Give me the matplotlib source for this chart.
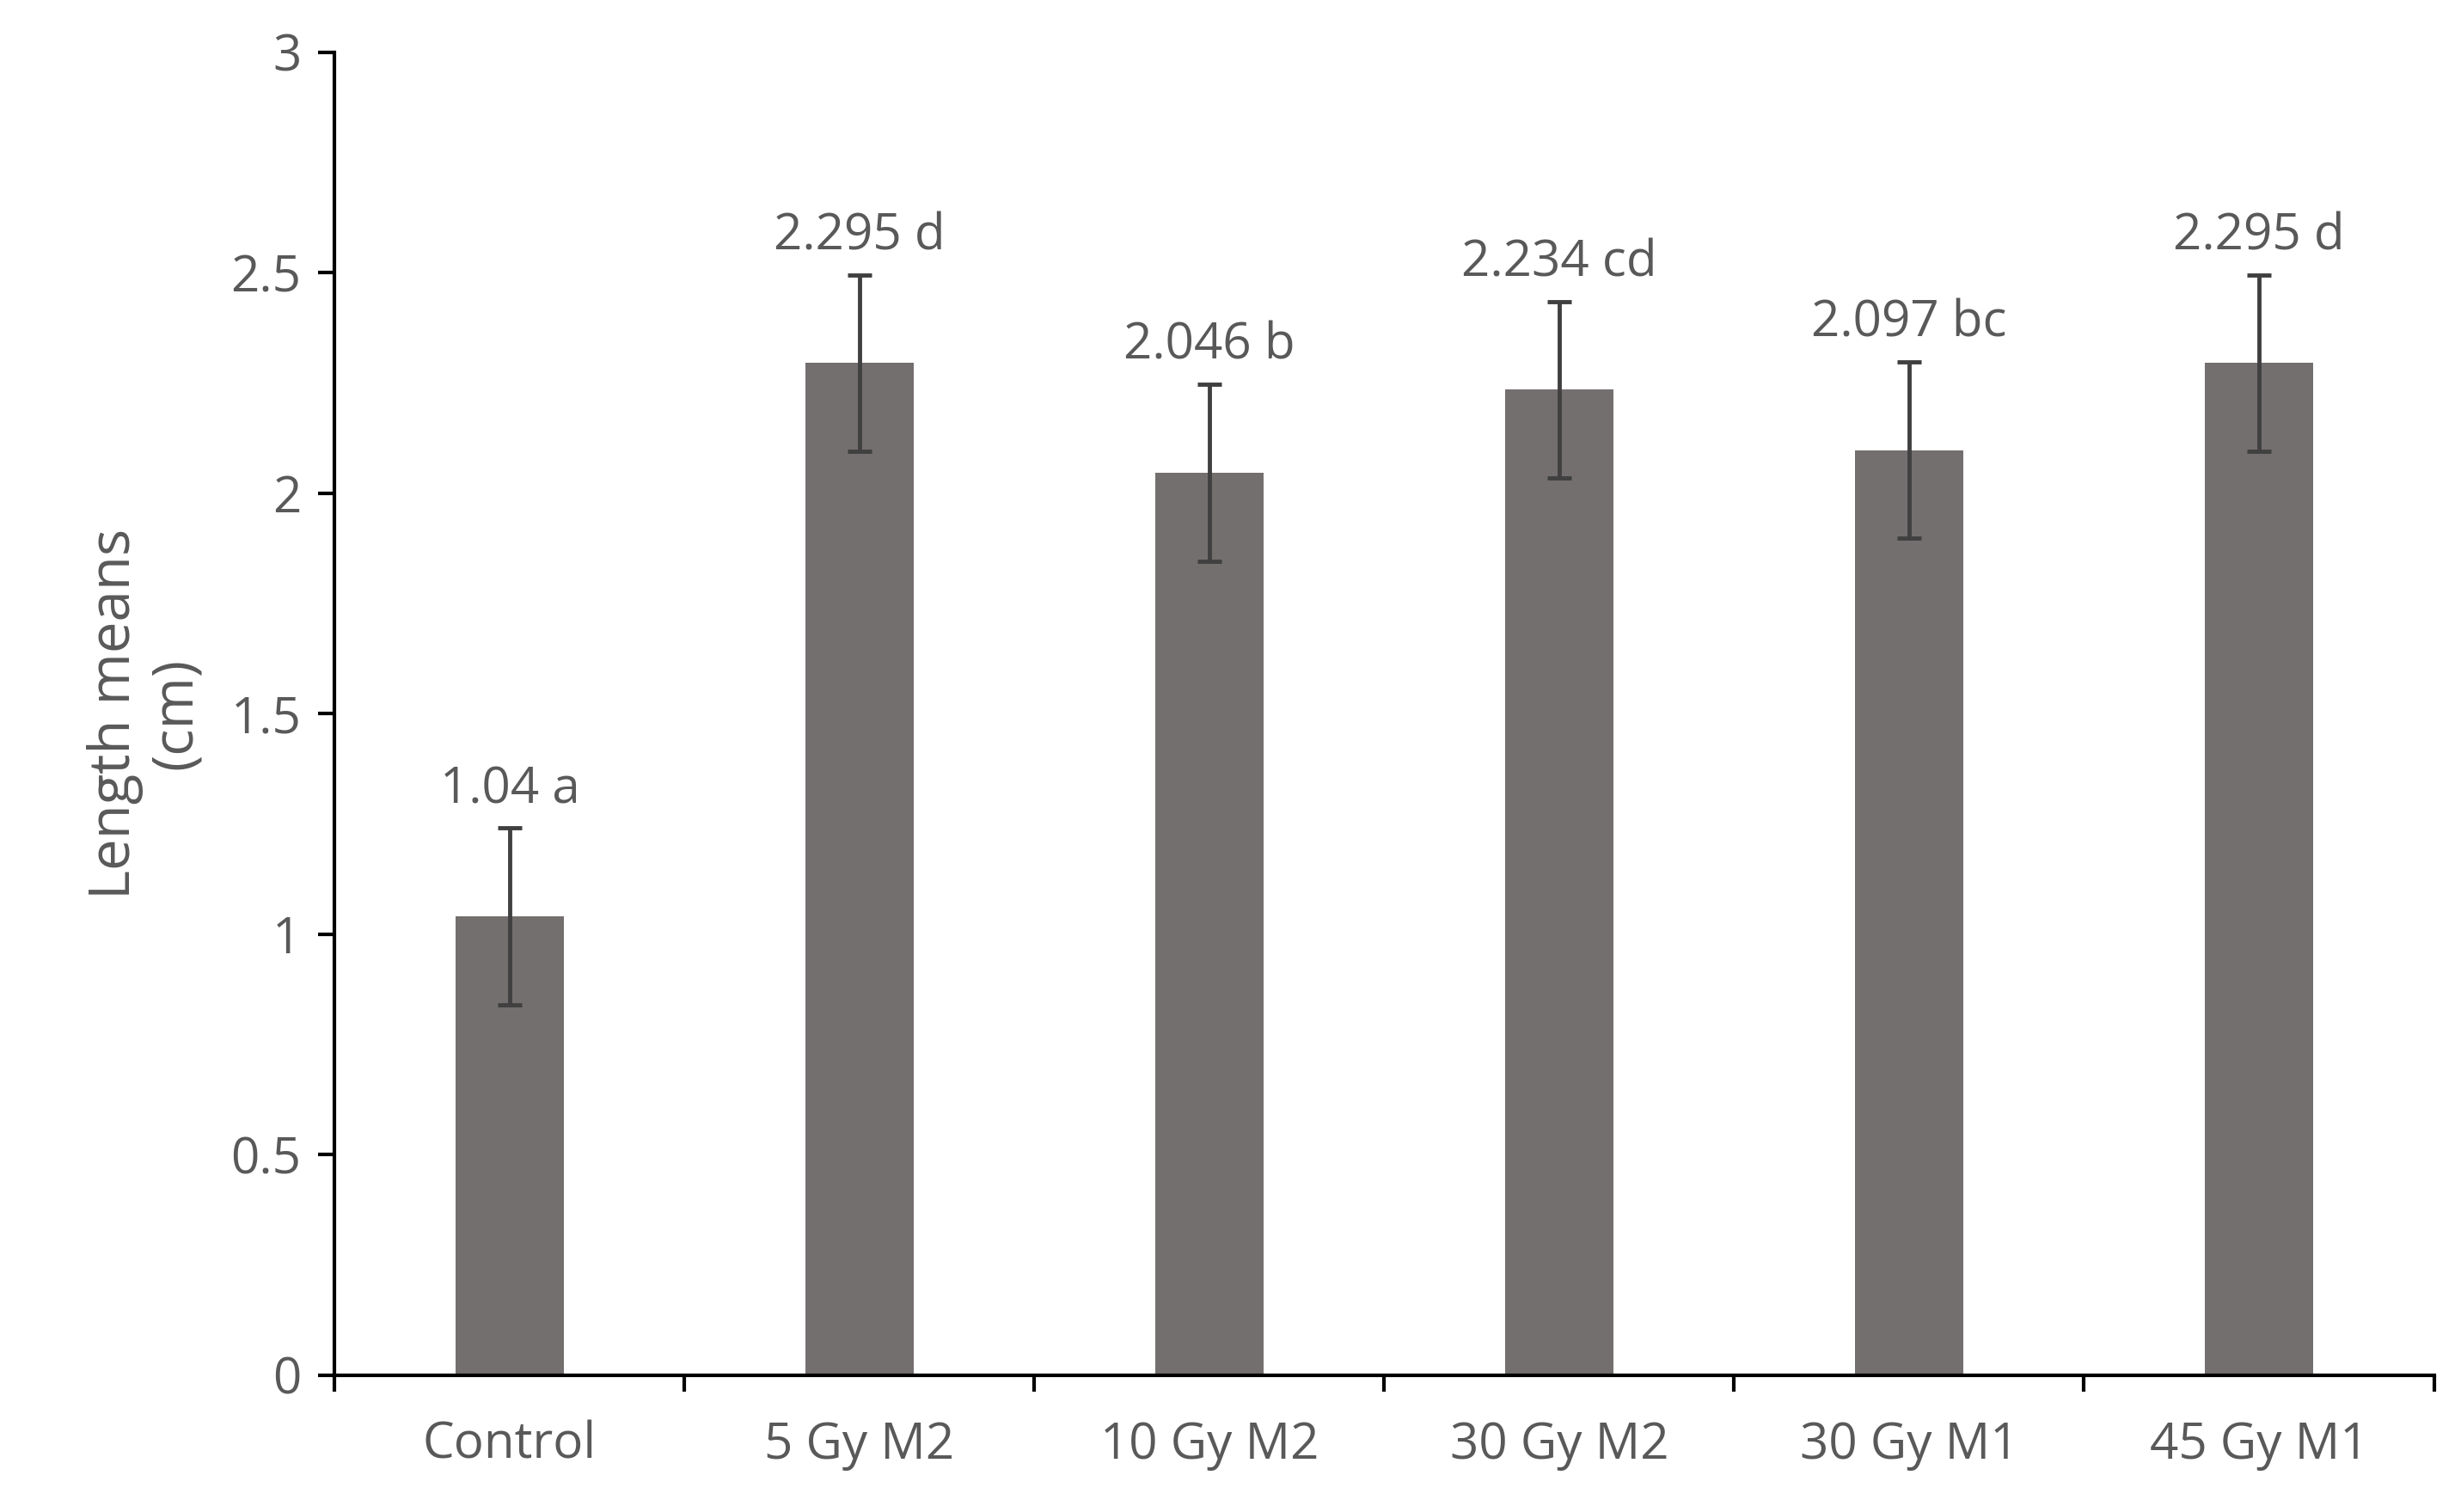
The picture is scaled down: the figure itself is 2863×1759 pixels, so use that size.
import matplotlib
matplotlib.use("Agg")
import matplotlib.pyplot as plt
import numpy as np

categories = ["Control", "5 Gy M2", "10 Gy M2", "30 Gy M2", "30 Gy M1", "45 Gy M1"]
means = [1.04, 2.295, 2.046, 2.234, 2.097, 2.295]
errors = [0.2, 0.2, 0.2, 0.2, 0.2, 0.2]
labels = ["1.04 a", "2.295 d", "2.046 b", "2.234 cd", "2.097 bc", "2.295 d"]

txt = "#595959"
plt.rcParams['font.family'] = ['Open Sans', 'DejaVu Sans']
fig = plt.figure(figsize=(28.63, 17.59), dpi=100)
ax = fig.add_axes([0.136, 0.0906, 0.853, 0.875])
x = np.arange(len(categories))
ax.bar(x, means, width=0.31, color="#736F6E", zorder=2)
ax.errorbar(x, means, yerr=errors, fmt='none', ecolor="#404040", elinewidth=3.5, capsize=10, capthick=3.5, zorder=3)
for xi, m, e, l in zip(x, means, errors, labels):
    ax.text(xi, m + e + 0.03, l, ha='center', va='bottom', fontsize=42, color=txt)
ax.set_xlim(-0.5, len(categories) - 0.5)
ax.set_ylim(0, 3)
ax.set_yticks(np.arange(0, 3.01, 0.5))
ax.set_yticklabels(["0", "0.5", "1", "1.5", "2", "2.5", "3"])
ax.set_xticks(x)
ax.set_xticklabels(categories)
ax.set_xticks(np.arange(-0.5, len(categories), 1), minor=True)
ax.tick_params(axis='x', which='major', length=0, pad=38, labelsize=42, labelcolor=txt)
ax.tick_params(axis='x', which='minor', length=14, width=3, color="black")
ax.tick_params(axis='y', length=14, width=3, labelsize=42, labelcolor=txt, pad=14)
for s in ['top', 'right']:
    ax.spines[s].set_visible(False)
for s in ['left', 'bottom']:
    ax.spines[s].set_linewidth(3)
ax.set_ylabel("Length means\n(cm)", fontsize=47, color=txt, labelpad=22, linespacing=1.1)
fig.savefig("out.png", dpi=100, facecolor="white")
